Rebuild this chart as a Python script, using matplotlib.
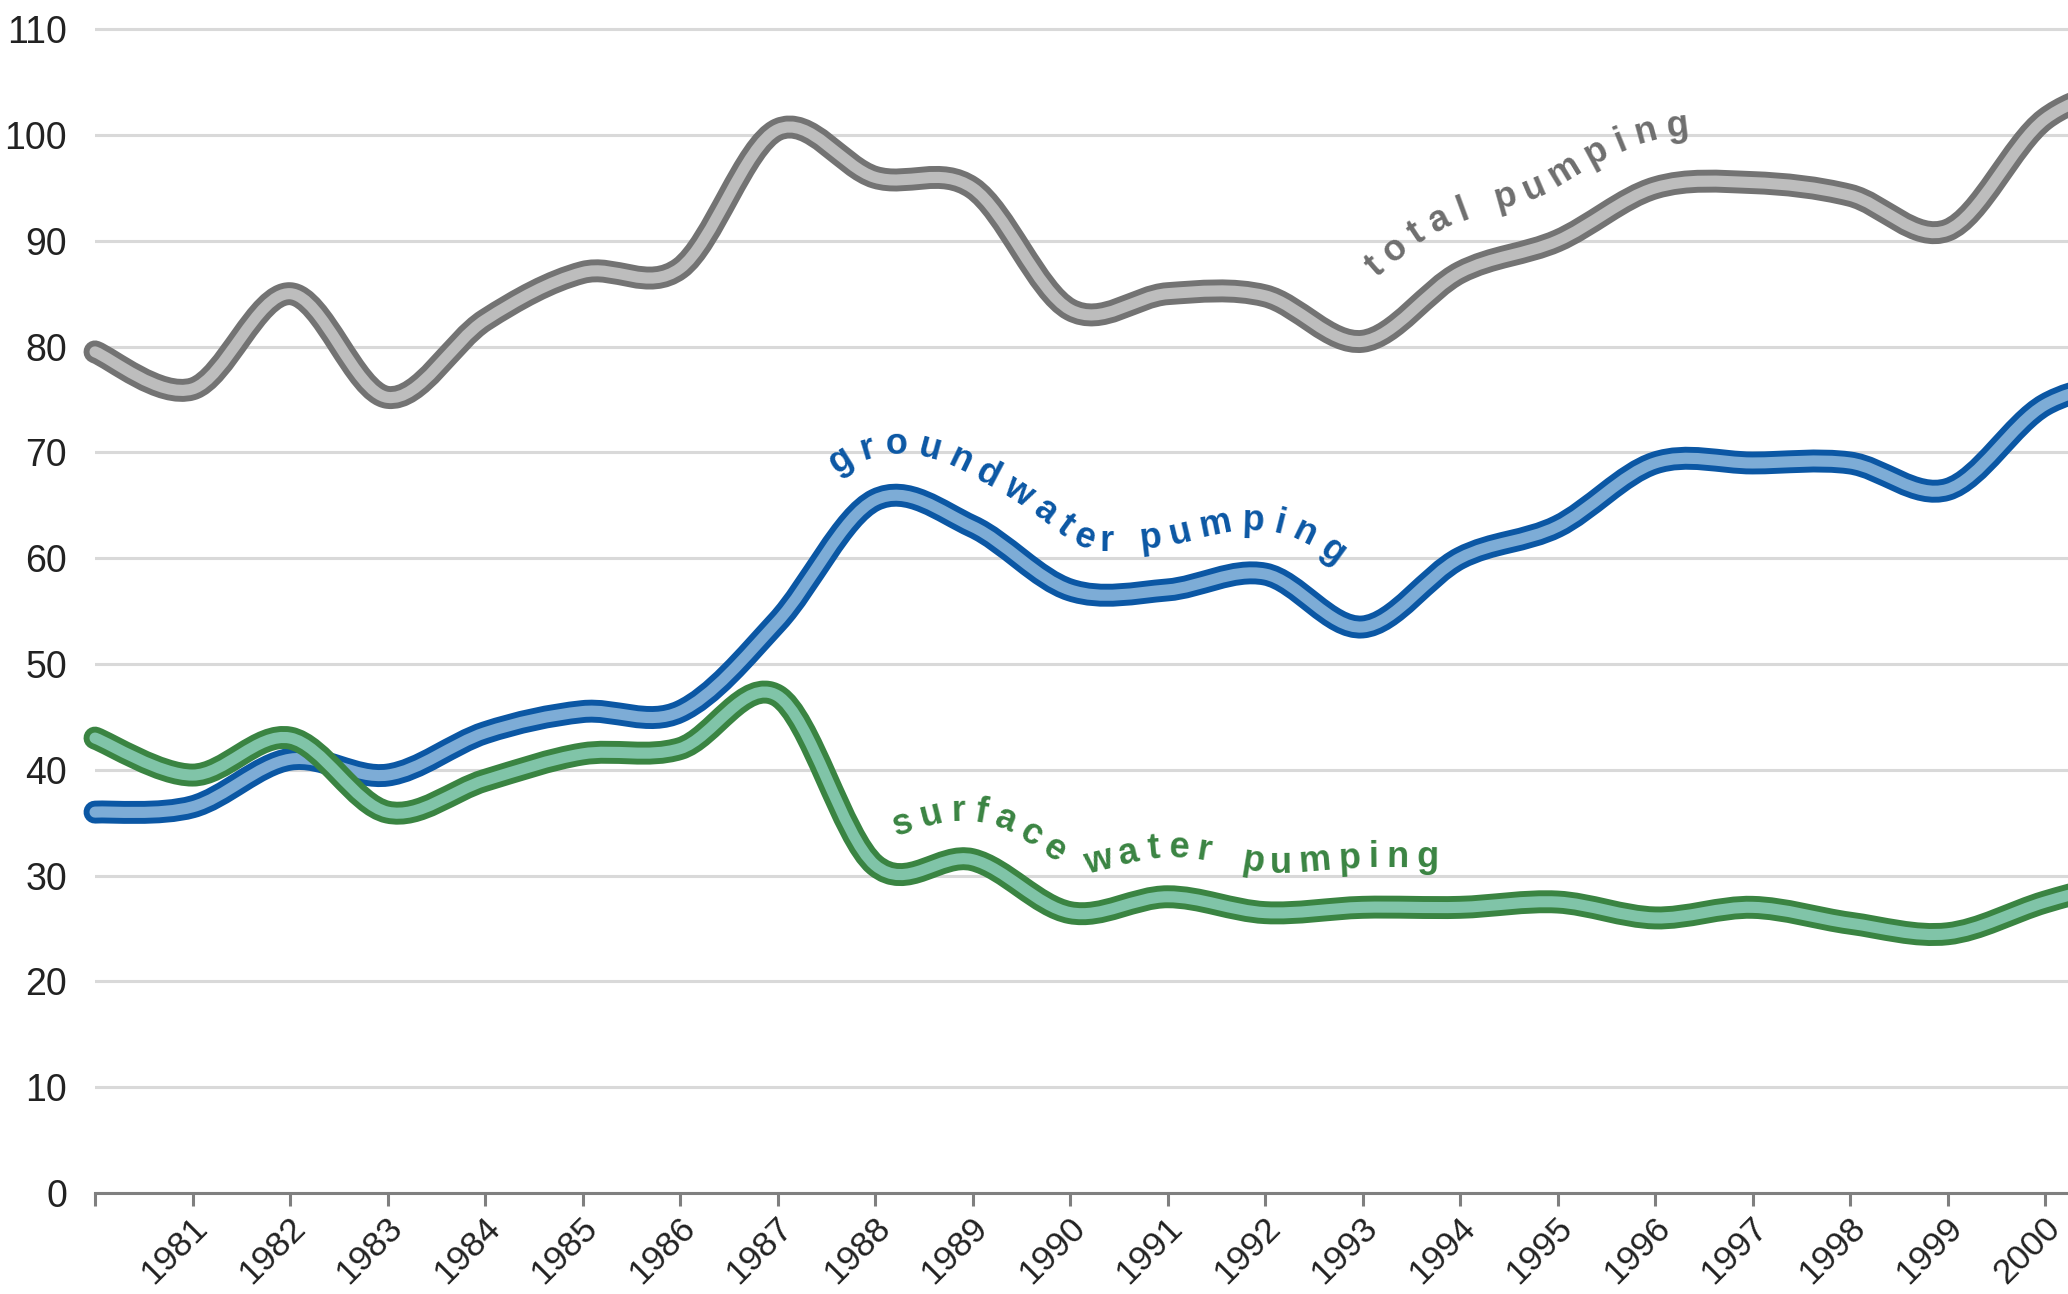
import numpy as np
import matplotlib
matplotlib.use("Agg")
import matplotlib.pyplot as plt
import matplotlib.transforms as mtransforms
from matplotlib.path import Path
from matplotlib.patches import PathPatch
from matplotlib.font_manager import FontProperties

# data (pumping, per year)
years = [1980, 1981, 1982, 1983, 1984, 1985, 1986, 1987, 1988, 1989, 1990,
         1991, 1992, 1993, 1994, 1995, 1996, 1997, 1998, 1999, 2000, 2001]
total = [79.5, 76.0, 85.0, 75.2, 82.5, 87.0, 87.4, 100.5, 96.0, 95.0, 83.5,
         85.0, 84.8, 80.5, 87.0, 90.0, 95.0, 95.5, 94.3, 91.0, 101.5, 105.0]
groundwater = [36.0, 36.5, 41.0, 39.5, 43.5, 45.5, 45.5, 54.0, 65.5, 63.0, 57.0,
               57.0, 58.5, 53.5, 60.0, 63.0, 69.0, 69.0, 69.0, 66.5, 74.5, 77.0]
surface = [43.0, 39.5, 43.0, 36.0, 39.0, 41.5, 42.0, 47.0, 31.0, 31.5, 26.5,
           28.0, 26.5, 27.0, 27.0, 27.5, 26.0, 27.0, 25.5, 24.5, 27.5, 30.0]
tick_years = [1980, 1981, 1982, 1983, 1984, 1985, 1986, 1987, 1988, 1989, 1990,
              1991, 1992, 1993, 1994, 1995, 1996, 1997, 1998, 1999, 2000]
tick_labels = ["", "1981", "1982", "1983", "1984", "1985", "1986", "1987", "1988",
               "1989", "1990", "1991", "1992", "1993", "1994", "1995", "1996",
               "1997", "1998", "1999", "2000"]
y_ticks = [0, 10, 20, 30, 40, 50, 60, 70, 80, 90, 100, 110]

DPI = 100
W, H = 2068, 1294

plt.rcParams['font.family'] = ['Liberation Sans', 'DejaVu Sans']

fig = plt.figure(figsize=(W / DPI, H / DPI), dpi=DPI)
left = 95 / W
bottom = 1 - 1193 / H
top = 1 - 18.6 / H
ax = fig.add_axes([left, bottom, 1 - left, top - bottom])
ax.set_xlim(1980, 1980 + (W - 95) / 97.5)
ax.set_ylim(0, 111)


def smooth_path(xs, ys):
    # catmull-rom through the points, written as cubic bezier segments
    x = np.asarray(xs, float)
    y = np.asarray(ys, float)
    xp = np.r_[x[0], x, x[-1]]
    yp = np.r_[y[0], y, y[-1]]
    verts = [(x[0], y[0])]
    codes = [Path.MOVETO]
    for i in range(len(x) - 1):
        c1 = (xp[i + 1] + (xp[i + 2] - xp[i]) / 6, yp[i + 1] + (yp[i + 2] - yp[i]) / 6)
        c2 = (xp[i + 2] - (xp[i + 3] - xp[i + 1]) / 6, yp[i + 2] - (yp[i + 3] - yp[i + 1]) / 6)
        verts += [c1, c2, (xp[i + 2], yp[i + 2])]
        codes += [Path.CURVE4] * 3
    return Path(verts, codes)


def draw_band(path, outer, inner):
    for col, lw in [(outer, 16.5), (inner, 8.0)]:
        ax.add_patch(PathPatch(path, facecolor='none', edgecolor=col, linewidth=lw,
                               capstyle='round', joinstyle='round', clip_on=False))


def moving_avg(a, n):
    p = n // 2
    k = np.ones(n) / n
    return np.convolve(np.r_[np.full(p, a[0]), a, np.full(p, a[-1])], k, mode='valid')


def label_along(path, text, x0, x1, offset, color, fp, smooth=41, space=0.25):
    pts = path.to_polygons(ax.transData, closed_only=False)[0]
    seg = np.hypot(*np.diff(pts, axis=0).T)
    s = np.r_[0, np.cumsum(seg)]
    ss = np.arange(0, s[-1], 1.0)
    px = np.interp(ss, s, pts[:, 0])
    py = np.interp(ss, s, pts[:, 1])
    sx, sy = moving_avg(px, smooth), moving_avg(py, smooth)
    tx, ty = np.gradient(sx), np.gradient(sy)
    nn = np.hypot(tx, ty)
    ox = moving_avg(px - ty / nn * offset, smooth)
    oy = moving_avg(py + tx / nn * offset, smooth)
    s2 = np.r_[0, np.cumsum(np.hypot(np.diff(ox), np.diff(oy)))]
    xd0 = ax.transData.transform((x0, 0))[0]
    xd1 = ax.transData.transform((x1, 0))[0]
    i0 = np.argmax(ox >= xd0)
    i1 = np.argmax(ox >= xd1)
    renderer = fig.canvas.get_renderer()
    em = fp.get_size_in_points() * DPI / 72
    widths = []
    for ch in text:
        if ch == ' ':
            widths.append(space * em)
        else:
            w, h, d = renderer.get_text_width_height_descent(ch, fp, ismath=False)
            widths.append(w)
    gap = (s2[i1] - s2[i0] - sum(widths)) / (len(text) - 1)
    cur = s2[i0]
    inv = ax.transData.inverted()
    for ch, w in zip(text, widths):
        sc = cur + w / 2
        cx, cy = np.interp(sc, s2, ox), np.interp(sc, s2, oy)
        dx = np.interp(sc + 4, s2, ox) - np.interp(sc - 4, s2, ox)
        dy = np.interp(sc + 4, s2, oy) - np.interp(sc - 4, s2, oy)
        ang = np.degrees(np.arctan2(dy, dx))
        xd, yd = inv.transform((cx, cy))
        if ch != ' ':
            ax.text(xd, yd, ch, rotation=ang, rotation_mode='anchor', ha='center',
                    va='baseline', fontproperties=fp, color=color, clip_on=False)
        cur += w + gap


# grid and axes
ax.set_yticks(y_ticks)
ax.set_xticks(tick_years)
ax.set_xticklabels(tick_labels)
ax.yaxis.grid(True, color='#d9d9d9', linewidth=2.2)
ax.set_axisbelow(True)
for side in ['top', 'right', 'left']:
    ax.spines[side].set_visible(False)
ax.spines['bottom'].set_color('#7f7f7f')
ax.spines['bottom'].set_linewidth(2.2)
ax.tick_params(axis='y', length=0, pad=20, labelsize=27, labelcolor='#222222')
ax.tick_params(axis='x', length=9.5, width=2.2, color='#7f7f7f', pad=12,
               labelsize=25.5, labelcolor='#222222')
shift = mtransforms.ScaledTranslation(10 / DPI, 0, fig.dpi_scale_trans)
for lab in ax.get_xticklabels():
    lab.set_rotation(45)
    lab.set_ha('right')
    lab.set_va('center')
    lab.set_rotation_mode('anchor')
    lab.set_transform(lab.get_transform() + shift)

# lines
p_total = smooth_path(years, total)
p_ground = smooth_path(years, groundwater)
p_surface = smooth_path(years, surface)
draw_band(p_total, '#737373', '#bdbdbd')
draw_band(p_ground, '#0b57a4', '#7dacd6')
draw_band(p_surface, '#3a8442', '#80c4a8')

# labels following the lines
fp = FontProperties(family='Liberation Sans', weight='bold', size=26)
label_along(p_total, "total pumping", 1993.14, 1996.35, 48, '#6e6e6e', fp, smooth=61)
label_along(p_ground, "groundwater pumping", 1987.6, 1992.72, 44, '#0b57a4', fp, smooth=41)
label_along(p_surface, "surface water pumping", 1988.23, 1993.77, 40, '#3a8442', fp,
            smooth=41, space=0.45)

fig.savefig('out.png', dpi=DPI)
